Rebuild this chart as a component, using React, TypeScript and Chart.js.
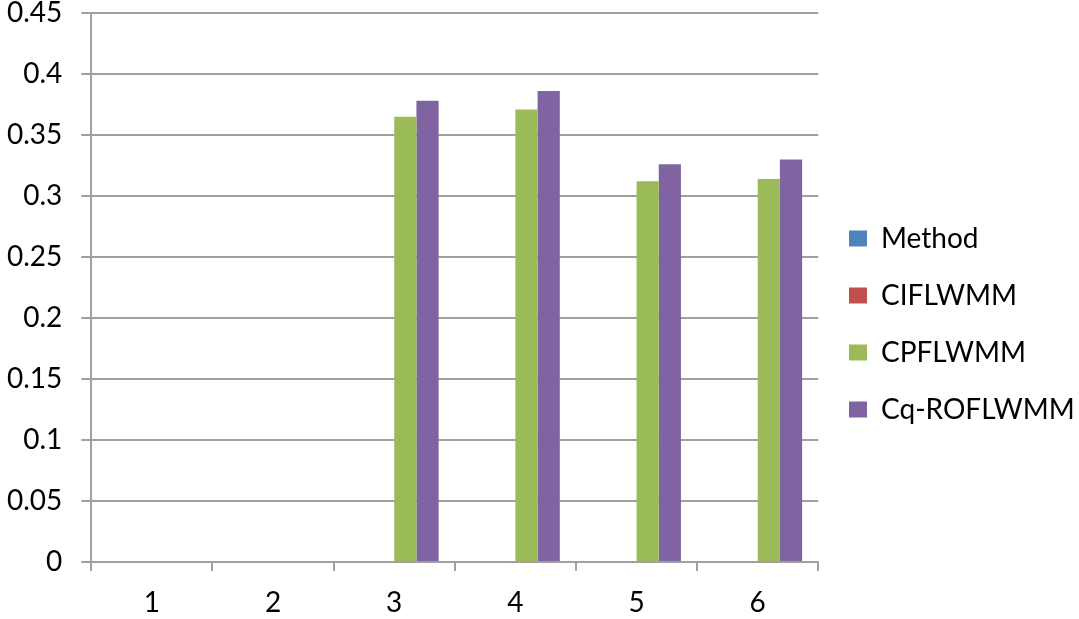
import React, { useEffect, useRef } from "react";
import { Chart, registerables } from "chart.js";

Chart.register(...registerables);

const categories = ["1", "2", "3", "4", "5", "6"];
const seriesNames = ["Method", "CIFLWMM", "CPFLWMM", "Cq-ROFLWMM"];
const methodValues = [0, 0, 0, 0, 0, 0];
const ciflwmmValues = [0, 0, 0, 0, 0, 0];
const cpflwmmValues = [0, 0, 0.365, 0.371, 0.312, 0.314];
const cqroflwmmValues = [0, 0, 0.378, 0.386, 0.326, 0.33];
const yTickLabels = ["0", "0.05", "0.1", "0.15", "0.2", "0.25", "0.3", "0.35", "0.4", "0.45"];
const seriesColors = ["#4F81BD", "#C0504D", "#9BBB59", "#8064A2"];

const FONT = "Lato";
const GRID = "#a0a0a0";

const legendShift = {
  id: "legendShift",
  afterLayout(chart: any) {
    const l = chart.legend;
    if (!l) return;
    const pad = l.options.labels.padding;
    const targetLeft = 849 - pad;
    const dx = targetLeft - l.left;
    l.left += dx;
    l.right += dx;
    const dy = 0;
    l.top += dy;
    l.bottom += dy;
  },
};

export default function App() {
  const ref = useRef<HTMLCanvasElement | null>(null);
  useEffect(() => {
    if (!ref.current) return;
    const all = [methodValues, ciflwmmValues, cpflwmmValues, cqroflwmmValues];
    const chart = new Chart(ref.current, {
      type: "bar",
      data: {
        labels: categories,
        datasets: all.map((d, i) => ({
          label: seriesNames[i],
          data: d,
          backgroundColor: seriesColors[i],
          borderWidth: 0,
          categoryPercentage: 0.733,
          barPercentage: 1,
        })),
      },
      options: {
        animation: false,
        responsive: false,
        maintainAspectRatio: false,
        layout: { padding: { left: -12, right: -4, top: 13, bottom: -16 } },
        plugins: {
          tooltip: { enabled: false },
          legend: {
            position: "right",
            labels: {
              boxWidth: 18,
              boxHeight: 16,
              padding: 29,
              color: "#000",
              font: { family: FONT, size: 28 },
            },
          },
        },
        scales: {
          x: {
            grid: {
              offset: true,
              drawOnChartArea: false,
              drawTicks: true,
              tickLength: 9,
              color: GRID,
              lineWidth: 2,
            },
            border: { color: GRID, width: 2 },
            ticks: {
              color: "#000",
              padding: 18,
              font: { family: FONT, size: 28, lineHeight: 1 },
            },
          },
          y: {
            min: 0,
            max: 0.45,
            grid: { color: GRID, lineWidth: 2, tickLength: 10 },
            border: { color: GRID, width: 2 },
            afterFit: (s: any) => {
              s.paddingTop = 0;
              s.paddingBottom = 0;
            },
            ticks: {
              stepSize: 0.05,
              color: "#000",
              padding: 19,
              font: { family: FONT, size: 28, lineHeight: 1 },
              callback: (_v: any, i: number) => yTickLabels[i],
            },
          },
        },
      },
      plugins: [legendShift],
    });
    return () => chart.destroy();
  }, []);
  return (
    <div style={{ position: "fixed", left: 0, top: 0, width: 1079, height: 619, background: "#fff" }}>
      <canvas ref={ref} width={1079} height={619} />
    </div>
  );
}
